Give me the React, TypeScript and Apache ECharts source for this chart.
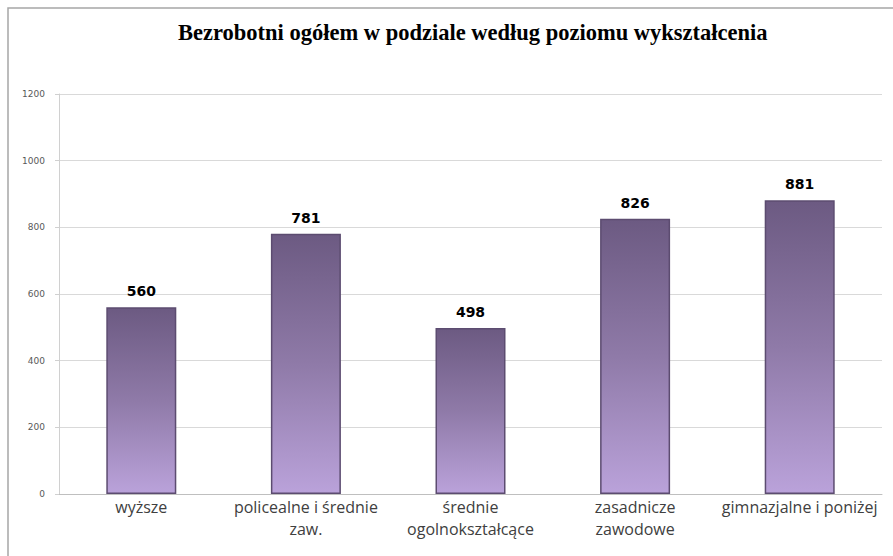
import React, { useEffect, useRef } from "react";
import * as echarts from "echarts";

const categories = [
  "wyższe",
  "policealne i średnie\nzaw.",
  "średnie\nogolnokształcące",
  "zasadnicze\nzawodowe",
  "gimnazjalne i poniżej",
];
const values = [560, 781, 498, 826, 881];
const yTicks = { min: 0, max: 1200, interval: 200 };
const title = "Bezrobotni ogółem w podziale według poziomu wykształcenia";

export default function App() {
  const ref = useRef<HTMLDivElement>(null);
  useEffect(() => {
    if (!ref.current) return;
    const chart = echarts.init(ref.current, null, { renderer: "svg" });
    chart.setOption({
      animation: false,
      backgroundColor: "#ffffff",
      title: {
        text: title,
        left: 173,
        top: 16,
        textStyle: {
          fontFamily: "Liberation Serif",
          fontWeight: "bold",
          fontSize: 22.5,
          color: "#000000",
        },
      },
      graphic: [
        {
          type: "rect",
          shape: { x: 8, y: 8, width: 1000, height: 600 },
          style: { fill: "none", stroke: "#a6a6a6", lineWidth: 1.5 },
          silent: true,
          z: -1,
        },
      ],
      grid: { left: 59, right: 11, top: 94, bottom: 62 },
      xAxis: {
        type: "category",
        data: categories,
        axisLine: { lineStyle: { color: "#bfbfbf", width: 1 } },
        axisTick: { show: false },
        axisLabel: {
          interval: 0,
          fontFamily: "Open Sans",
          fontSize: 16,
          color: "#404040",
          lineHeight: 22,
          margin: 2,
        },
      },
      yAxis: {
        type: "value",
        min: yTicks.min,
        max: yTicks.max,
        interval: yTicks.interval,
        axisLine: { show: true, lineStyle: { color: "#d0d0d0" } },
        axisTick: { show: true, length: 4, lineStyle: { color: "#d0d0d0" } },
        splitLine: { lineStyle: { color: "#d9d9d9" } },
        axisLabel: {
          fontFamily: "DejaVu Sans",
          fontSize: 9,
          color: "#595959",
          margin: 14,
          formatter: (v: number) => String(v),
        },
      },
      series: [
        {
          type: "bar",
          data: values,
          barWidth: 70,
          itemStyle: {
            color: new echarts.graphic.LinearGradient(0, 0, 0, 1, [
              { offset: 0, color: "#6c5a82" },
              { offset: 0.5, color: "#8f7aa8" },
              { offset: 1, color: "#baa2da" },
            ]),
            borderColor: "#5c4c70",
            borderWidth: 1.5,
          },
          label: {
            show: true,
            position: "top",
            distance: 9,
            fontFamily: "DejaVu Sans",
            fontWeight: "bold",
            fontSize: 14,
            color: "#000000",
          },
        },
      ],
    });
    return () => chart.dispose();
  }, []);
  return (
    <div
      ref={ref}
      style={{ position: "absolute", left: 0, top: 0, width: 893, height: 556 }}
    />
  );
}
